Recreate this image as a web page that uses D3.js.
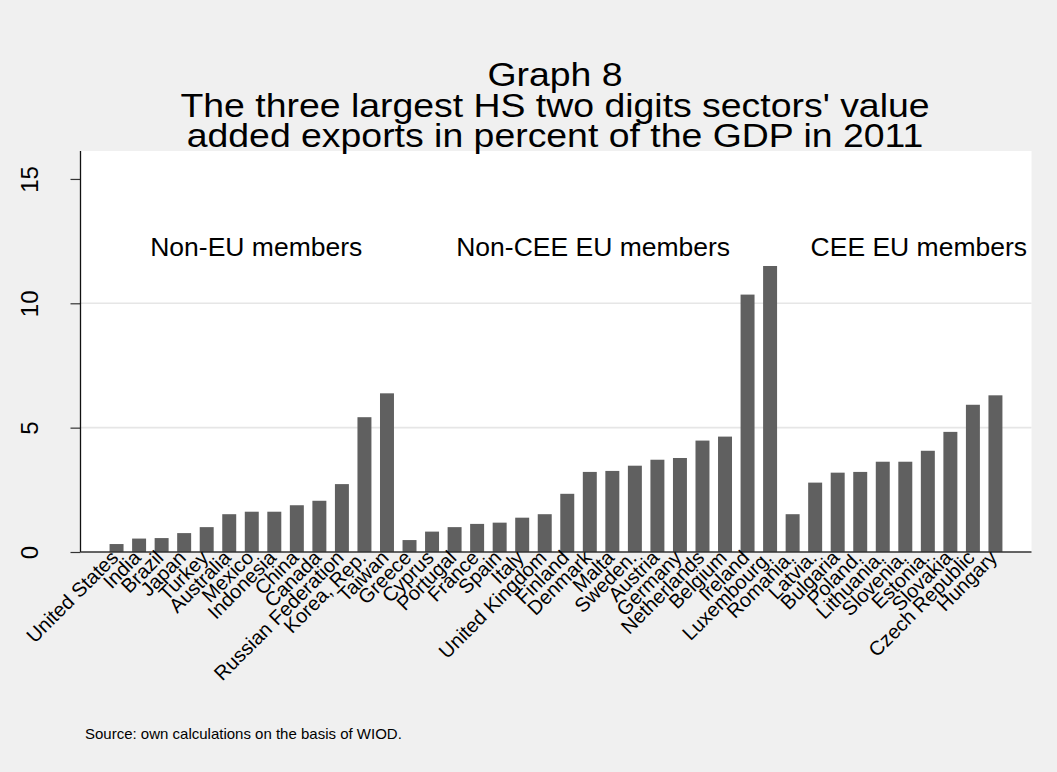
<!DOCTYPE html>
<html>
<head>
<meta charset="utf-8">
<script src="https://cdn.jsdelivr.net/npm/d3@7"></script>
<style>
  html, body { margin: 0; padding: 0; background: #f0f0f0; }
  svg { display: block; font-family: "Liberation Sans", Arial, sans-serif; }
</style>
</head>
<body>
<div id="chart"></div>
<script>
// ── Data ──────────────────────────────────────────────────────────────────────
const countries = [
  'United States', 'India', 'Brazil', 'Japan', 'Turkey', 'Australia', 'Mexico',
  'Indonesia', 'China', 'Canada', 'Russian Federation', 'Korea, Rep.', 'Taiwan',
  'Greece', 'Cyprus', 'Portugal', 'France', 'Spain', 'Italy', 'United Kingdom',
  'Finland', 'Denmark', 'Malta', 'Sweden.', 'Austria', 'Germany', 'Netherlands',
  'Belgium', 'Ireland', 'Luxembourg.',
  'Romania.', 'Latvia.', 'Bulgaria', 'Poland.', 'Lithuania.', 'Slovenia.',
  'Estonia.', 'Slovakia', 'Czech Republic', 'Hungary'
];
const values = [
  0.32, 0.54, 0.56, 0.76, 1.00, 1.52, 1.62, 1.62, 1.88, 2.06, 2.73, 5.42, 6.38,
  0.48, 0.82, 1.00, 1.13, 1.18, 1.38, 1.52, 2.34, 3.22, 3.26, 3.47, 3.71, 3.78,
  4.48, 4.64, 10.35, 11.50,
  1.52, 2.79, 3.19, 3.22, 3.63, 3.63, 4.07, 4.83, 5.92, 6.30
];
const yTicks = [0, 5, 10, 15];
const gridTicks = [5, 10];
const groupLabels = ['Non-EU members', 'Non-CEE EU members', 'CEE EU members'];
const groupLabelAt = [6.2, 21.15, 35.6];   // position in bar units
const groupLabelValue = 11.9;
const titleLines = [
  'Graph 8',
  'The three largest HS two digits sectors\' value',
  'added exports in percent of the GDP in 2011'
];
const sourceNote = 'Source: own calculations on the basis of WIOD.';

// ── Layout ────────────────────────────────────────────────────────────────────
const W = 1057, H = 772;
const plot = { left: 80.5, right: 1031.5, top: 151, bottom: 552 };

const svg = d3.select('#chart')
  .append('svg')
  .attr('width', W)
  .attr('height', H);

svg.append('rect')
  .attr('width', W).attr('height', H)
  .attr('fill', '#f0f0f0');

svg.append('rect')
  .attr('x', plot.left).attr('y', plot.top)
  .attr('width', plot.right - plot.left)
  .attr('height', plot.bottom - plot.top)
  .attr('fill', '#ffffff');

// ── Scales ────────────────────────────────────────────────────────────────────
const x = d3.scaleBand()
  .domain(countries)
  .range([plot.left, plot.right])
  .paddingInner(0.38)
  .paddingOuter(1.29);

const y = d3.scaleLinear()
  .domain([0, 15])
  .range([plot.bottom, plot.bottom - 15 * 24.87]);

// position in bar units -> pixel (centre of bar i, fractional allowed)
const atBar = i => x.range()[0] + x.step() * (x.paddingOuter() + i) + x.bandwidth() / 2;

// ── Grid ──────────────────────────────────────────────────────────────────────
svg.append('g')
  .selectAll('line')
  .data(gridTicks)
  .join('line')
  .attr('x1', plot.left).attr('x2', plot.right)
  .attr('y1', d => y(d)).attr('y2', d => y(d))
  .attr('stroke', '#e6e6e6')
  .attr('stroke-width', 1.6);

// ── Bars ──────────────────────────────────────────────────────────────────────
svg.append('g')
  .selectAll('rect')
  .data(countries.map((c, i) => ({ c, v: values[i] })))
  .join('rect')
  .attr('x', d => x(d.c))
  .attr('width', x.bandwidth())
  .attr('y', d => y(d.v))
  .attr('height', d => y(0) - y(d.v))
  .attr('fill', '#606060');

// ── Axes ──────────────────────────────────────────────────────────────────────
const yAxis = svg.append('g')
  .attr('transform', `translate(${plot.left},0)`)
  .call(d3.axisLeft(y).tickValues(yTicks).tickSize(10).tickPadding(0).tickFormat(d3.format('d')));
yAxis.select('.domain').remove();
yAxis.selectAll('.tick line').attr('stroke', '#333').attr('stroke-width', 1.2);
yAxis.selectAll('.tick text')
  .attr('font-size', 24)
  .attr('fill', '#000')
  .attr('text-anchor', 'middle')
  .attr('dy', null)
  .attr('x', null)
  .attr('transform', 'translate(-43,0) rotate(-90)');

svg.append('line')
  .attr('x1', plot.left).attr('x2', plot.left)
  .attr('y1', plot.top).attr('y2', plot.bottom)
  .attr('stroke', '#111').attr('stroke-width', 1.3);

svg.append('line')
  .attr('x1', plot.left).attr('x2', plot.right)
  .attr('y1', plot.bottom).attr('y2', plot.bottom)
  .attr('stroke', '#333').attr('stroke-width', 1.6);

// x labels, rotated 45°
svg.append('g')
  .selectAll('text')
  .data(countries)
  .join('text')
  .attr('transform', d => `translate(${x(d) + x.bandwidth() / 2 + 3},559) rotate(-45)`)
  .attr('text-anchor', 'end')
  .attr('font-size', 20)
  .attr('fill', '#000')
  .text(d => d);

// ── Group labels ──────────────────────────────────────────────────────────────
svg.append('g')
  .selectAll('text')
  .data(groupLabels)
  .join('text')
  .attr('x', (d, i) => atBar(groupLabelAt[i]))
  .attr('y', y(groupLabelValue))
  .attr('text-anchor', 'middle')
  .attr('font-size', 26.5)
  .attr('fill', '#000')
  .text(d => d);

// ── Title & note ──────────────────────────────────────────────────────────────
svg.append('g')
  .selectAll('text')
  .data(titleLines)
  .join('text')
  .attr('transform', (d, i) => `translate(555,${86 + i * 30.5}) scale(1.1,1)`)
  .attr('text-anchor', 'middle')
  .attr('font-size', 34)
  .attr('fill', '#000')
  .text(d => d);

svg.append('text')
  .attr('x', 85)
  .attr('y', 739)
  .attr('font-size', 15)
  .attr('fill', '#000')
  .text(sourceNote);
</script>
</body>
</html>
